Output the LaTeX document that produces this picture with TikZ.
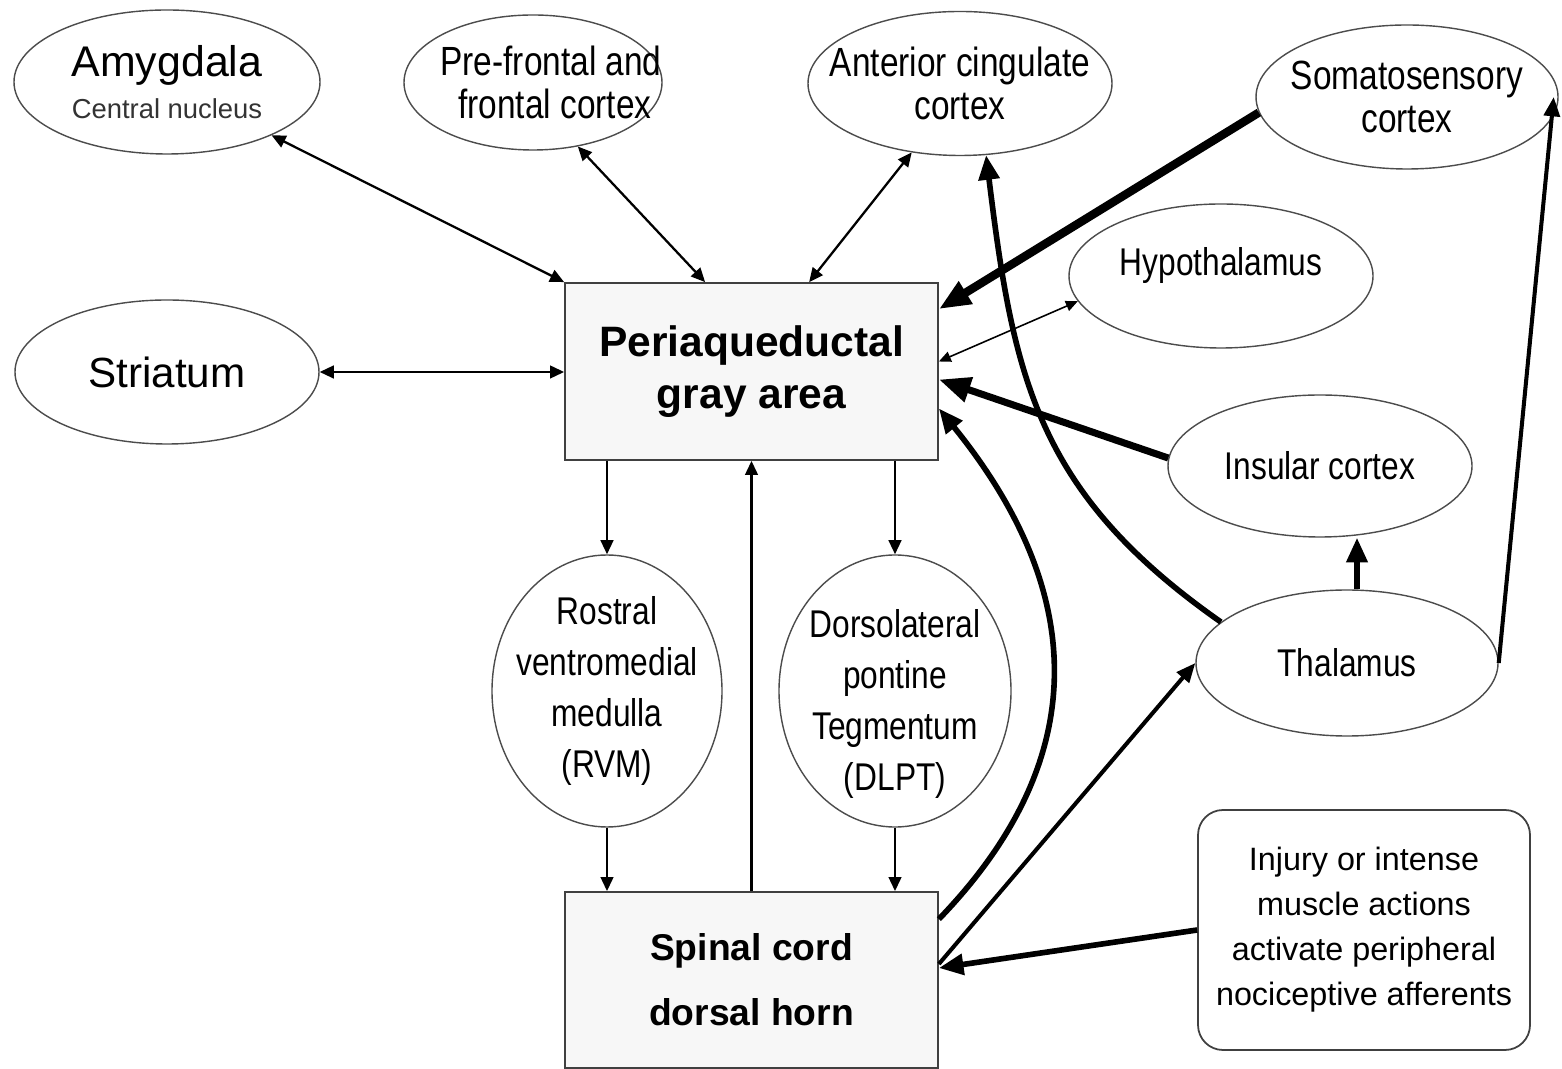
\documentclass[tikz,border=0pt]{standalone}
\usepackage{fontspec}
\setmainfont{Liberation Sans}
\newfontfamily\narrowsf[FakeStretch=0.82]{Liberation Sans}
\usetikzlibrary{arrows.meta,shapes.geometric}

\begin{document}
\begin{tikzpicture}[
  region/.style={ellipse, draw=black!70, line width=0.4pt, inner sep=-3cm, align=center},
  hub/.style={rectangle, draw=black!75, fill=black!3, line width=0.5pt, inner sep=0pt, minimum width=3.73cm, align=center},
  link/.style={-{Triangle[length=4pt,width=3.6pt]}, line width=0.65pt},
  linkboth/.style={{Triangle[length=4pt,width=3.6pt]}-{Triangle[length=4pt,width=3.6pt]}, line width=0.65pt},
  faint/.style={{Triangle[length=3.4pt,width=3pt]}-{Triangle[length=3.4pt,width=3pt]}, line width=0.45pt},
  medium/.style={-{Triangle[length=5.5pt,width=4.5pt]}, line width=1.15pt},
  strong/.style={-{Triangle[length=7pt,width=5.8pt]}, line width=1.6pt},
  heavy/.style={-{Triangle[length=9pt,width=7pt]}, line width=2.4pt}
]
  \useasboundingbox[fill=white] (0,0) rectangle (15.62,10.68);

  % cortical and limbic regions
  \node[region, minimum width=3.06cm, minimum height=1.44cm, font=\fontsize{12.2}{12}\selectfont] (amyg) at (1.67, 9.86) {Amygdala\\{\fontsize{7.8}{9}\selectfont\color{black!80}Central nucleus}};
  \node[region, minimum width=2.58cm, minimum height=1.35cm, font=\narrowsf\fontsize{11.6}{12.2}\selectfont] (front) at (5.33, 9.855) {\hspace*{0.36cm}Pre-frontal and\\\hspace*{0.44cm}frontal cortex};
  \node[region, minimum width=3.04cm, minimum height=1.44cm, font=\narrowsf\fontsize{11.6}{12.2}\selectfont] (cing) at (9.60, 9.845) {Anterior cingulate\\cortex};
  \node[region, minimum width=3.02cm, minimum height=1.44cm, font=\narrowsf\fontsize{11.6}{12.5}\selectfont] (somato) at (14.07, 9.71) {Somatosensory\\cortex};
  \node[region, minimum width=3.04cm, minimum height=1.44cm, text depth=0.28cm, font=\narrowsf\fontsize{11}{13}\selectfont] (hypo) at (12.21, 7.92) {Hypothalamus};
  \node[region, minimum width=3.04cm, minimum height=1.44cm, font=\fontsize{12}{14}\selectfont] (striatum) at (1.67, 6.96) {Striatum};
  \node[region, minimum width=3.04cm, minimum height=1.42cm, font=\narrowsf\fontsize{11}{13}\selectfont] (insular) at (13.20, 6.02) {Insular cortex};
  \node[region, minimum width=3.02cm, minimum height=1.46cm, font=\narrowsf\fontsize{11}{13}\selectfont] (thal) at (13.47, 4.05) {Thalamus};

  % brainstem
  \node[region, minimum width=2.30cm, minimum height=2.72cm, font=\narrowsf\fontsize{11}{14.5}\selectfont] (rvm) at (6.07, 3.77) {Rostral\\ventromedial\\medulla\\(RVM)};
  \node[region, minimum width=2.32cm, minimum height=2.72cm, text height=59pt, font=\narrowsf\fontsize{11}{14.5}\selectfont] (dlpt) at (8.95, 3.77) {Dorsolateral\\pontine\\Tegmentum\\(DLPT)};

  \node[hub, minimum height=1.77cm, font=\bfseries\fontsize{12.1}{14.8}\selectfont] (pag) at (7.515, 6.965) {Periaqueductal\\gray area};
  \node[hub, minimum height=1.76cm, font=\bfseries\fontsize{10.6}{18.5}\selectfont] (spinal) at (7.515, 0.88) {Spinal cord\\dorsal horn};
  \node[rectangle, rounded corners=0.25cm, draw=black!75, line width=0.5pt, minimum width=3.32cm, minimum height=2.40cm, inner sep=0pt, align=center, font=\fontsize{9.2}{12.8}\selectfont] (injury) at (13.64, 1.38) {Injury or intense\\muscle actions\\activate peripheral\\nociceptive afferents};

  % connections to the PAG
  \draw[linkboth] (amyg.-27) -- (pag.north west);
  \draw[linkboth] (front.-55) -- ([xshift=1.41cm]pag.north west);
  \draw[linkboth] (cing.-125) -- ([xshift=2.45cm]pag.north west);
  \draw[linkboth] (striatum.east) -- (striatum.east -| pag.west);
  \draw[heavy] (somato.186) -- ([yshift=-0.27cm]pag.north east);
  \draw[faint] (hypo.190) -- ([yshift=0.1cm]pag.east);
  \draw[heavy, line width=2pt] (insular.177) -- ([yshift=-0.08cm]pag.east);

  % descending and ascending paths
  \draw[link] (rvm.north |- pag.south) -- (rvm.north);
  \draw[link] (dlpt.north |- pag.south) -- (dlpt.north);
  \draw[link] (rvm.south) -- (rvm.south |- spinal.north);
  \draw[link] (dlpt.south) -- (dlpt.south |- spinal.north);
  \draw[link] (spinal.north) -- (pag.south);
  \draw[strong] ([yshift=-0.28cm]spinal.north east) to[out=46, in=-51, looseness=1.15] ([yshift=-0.37cm]pag.east);
  \draw[strong] (thal.162) to[out=145, in=-83, looseness=1.1] (cing.-70);
  \draw[strong] ([xshift=0.1cm]thal.north) -- ([xshift=0.1cm]thal.north |- insular.south);
  \draw[medium] (thal.east) -- ([xshift=-0.05cm]somato.east);
  \draw[medium] ([yshift=0.16cm]spinal.east) -- (thal.west);
  \draw[strong] (injury.west) -- ([yshift=0.12cm]spinal.east);
\end{tikzpicture}
\end{document}
